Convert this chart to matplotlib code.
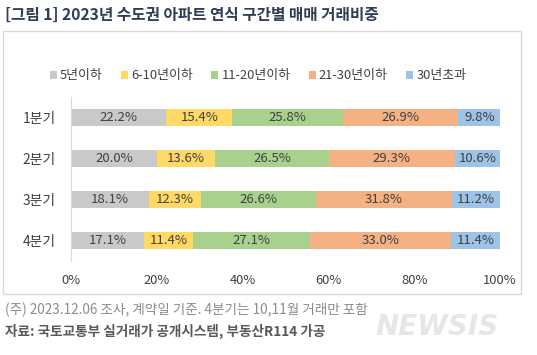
import numpy as np
import matplotlib
matplotlib.use("Agg")
import matplotlib.pyplot as plt
from matplotlib.patches import Rectangle, Patch

plt.rcParams['font.family'] = ['Noto Sans CJK KR', 'DejaVu Sans']

# data
quarters = ["1분기", "2분기", "3분기", "4분기"]
series = ["5년이하", "6-10년이하", "11-20년이하", "21-30년이하", "30년초과"]
v_5 = [22.2, 20.0, 18.1, 17.1]
v_6_10 = [15.4, 13.6, 12.3, 11.4]
v_11_20 = [25.8, 26.5, 26.6, 27.1]
v_21_30 = [26.9, 29.3, 31.8, 33.0]
v_30 = [9.8, 10.6, 11.2, 11.4]
xticks = [0, 20, 40, 60, 80, 100]

colors = ["#C9C9C9", "#FFD966", "#A9D18E", "#F4B183", "#9DC3E6"]
txt = "#404040"

W, H = 537, 355
fig = plt.figure(figsize=(W / 100, H / 100), dpi=100)

# chart box
fig.patches.append(Rectangle((3 / W, 1 - 294 / H), 518 / W, 263 / H,
                             transform=fig.transFigure, fill=False,
                             edgecolor="#D9D9D9", linewidth=1.0))

ax = fig.add_axes([71 / W, 1 - 261 / H, 429 / W, 164 / H])

y = np.arange(len(quarters))
left = np.zeros(len(quarters))
for name, vals, c in zip(series, [v_5, v_6_10, v_11_20, v_21_30, v_30], colors):
    vals = np.array(vals)
    ax.barh(y, vals, left=left, height=0.4, color=c, label=name)
    for yi, l, v in zip(y, left, vals):
        ax.text(l + v / 2, yi, f"{v:.1f}%", ha="center", va="center",
                fontsize=9.5, color=txt)
    left += vals

ax.set_xlim(0, 100)
ax.set_ylim(3.5, -0.5)
ax.set_yticks(y)
ax.set_yticklabels(quarters, fontsize=10, color=txt)
ax.set_xticks(xticks)
ax.set_xticklabels([f"{t}%" for t in xticks], fontsize=9.3, color=txt)
ax.tick_params(axis="both", length=0)
ax.tick_params(axis="y", pad=11)
ax.tick_params(axis="x", pad=9)
for s in ["top", "right", "bottom"]:
    ax.spines[s].set_visible(False)
ax.spines["left"].set_color("#D9D9D9")

handles = [Patch(facecolor=c, edgecolor="none") for c in colors]
fig.legend(handles, series, loc="center", bbox_to_anchor=(258 / W, 1 - 76 / H),
           ncol=5, frameon=False, fontsize=9.3, handlelength=0.55, handleheight=0.55,
           handletextpad=0.25, columnspacing=1.4, labelcolor=txt)

fig.text(5 / W, 1 - 15 / H, "[그림 1] 2023년 수도권 아파트 연식 구간별 매매 거래비중",
         fontsize=11.3, fontweight="bold", color="#2F3D55", va="center", ha="left")
fig.text(5 / W, 1 - 310 / H, "(주) 2023.12.06 조사, 계약일 기준. 4분기는 10,11월 거래만 포함",
         fontsize=9.8, color="#8C8C8C", va="center", ha="left")
fig.text(5 / W, 1 - 331 / H, "자료: 국토교통부 실거래가 공개시스템, 부동산R114 가공",
         fontsize=9.8, fontweight="bold", color="#595959", va="center", ha="left")
fig.text(437 / W, 1 - 327 / H, "NEWSIS", fontsize=20, fontweight="bold",
         fontstyle="italic", color="#E6E6E6", va="center", ha="center",
         family="DejaVu Sans")

fig.savefig("out.png", dpi=100)
